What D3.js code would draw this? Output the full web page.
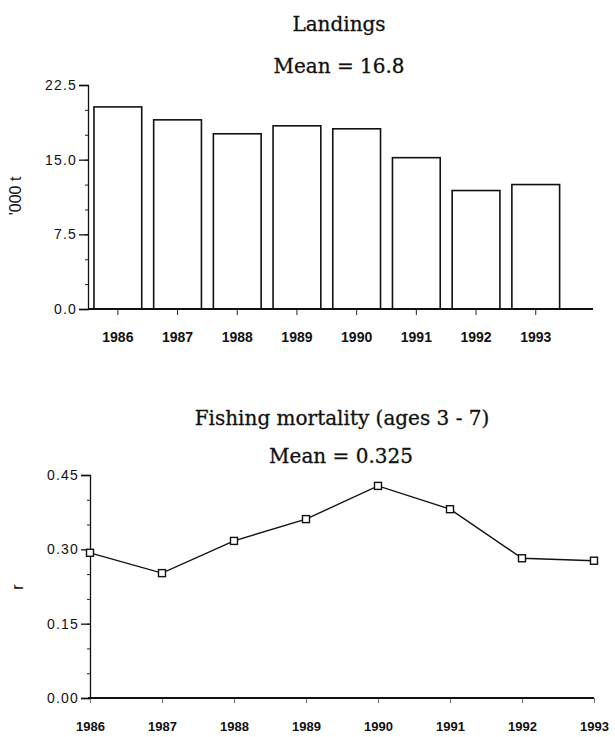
<!DOCTYPE html>
<html>
<head>
<meta charset="utf-8">
<script src="https://cdn.jsdelivr.net/npm/d3@7"></script>
<style>
  body { margin: 0; background: #fff; }
  .title { font-family: "DejaVu Serif", serif; font-size: 20px; fill: #111; stroke: #111; stroke-width: 0.3px; }
  .ytick text { font-family: "Liberation Sans", Arial, sans-serif; font-size: 14px; letter-spacing: 1.2px; fill: #111; }
  .xtick text { font-family: "Liberation Sans", Arial, sans-serif; font-size: 13px; font-weight: bold; fill: #111; }
  .xtick.wide text { font-size: 14px; }
  .ylab { font-family: "Liberation Sans", Arial, sans-serif; font-size: 16px; fill: #111; }
</style>
</head>
<body>
<svg id="chart" width="615" height="737"></svg>
<script>
// data
const years = [1986, 1987, 1988, 1989, 1990, 1991, 1992, 1993];
const landings = [20.3, 19.0, 17.6, 18.4, 18.1, 15.2, 11.9, 12.5];
const fishingMortality = [0.293, 0.252, 0.317, 0.361, 0.428, 0.381, 0.282, 0.277];
const landingsTicks = [0, 7.5, 15, 22.5];
const mortalityTicks = [0, 0.15, 0.30, 0.45];

const svg = d3.select("#chart");

// ---- top panel: landings bars ----
const landBox = { left: 88, right: 593, top: 85, bottom: 309 };

const xBand = d3.scaleBand()
  .domain(years)
  .range([landBox.left, landBox.left + 477.6])
  .paddingInner(0.2)
  .paddingOuter(0.1);

const yLand = d3.scaleLinear().domain([0, 22.5]).range([landBox.bottom, landBox.top]);

svg.append("text").attr("class", "title")
  .attr("x", 339).attr("y", 31).attr("text-anchor", "middle")
  .text("Landings");
svg.append("text").attr("class", "title")
  .attr("x", 339).attr("y", 73).attr("text-anchor", "middle")
  .text("Mean = 16.8");

svg.append("g")
  .selectAll("rect")
  .data(years)
  .join("rect")
  .attr("x", (d) => xBand(d))
  .attr("width", xBand.bandwidth())
  .attr("y", (d, i) => yLand(landings[i]))
  .attr("height", (d, i) => yLand(0) - yLand(landings[i]))
  .attr("fill", "#fff")
  .attr("stroke", "#111")
  .attr("stroke-width", 1.6);

// minor ticks
svg.append("g")
  .attr("transform", `translate(${landBox.left},0)`)
  .call(d3.axisLeft(yLand).tickValues(d3.range(0, 22.51, 2.5)).tickSize(3).tickFormat(""))
  .call((g) => g.select(".domain").remove())
  .selectAll("line").attr("stroke", "#222");

svg.append("g")
  .attr("class", "ytick")
  .attr("transform", `translate(${landBox.left},0)`)
  .call(d3.axisLeft(yLand).tickValues(landingsTicks).tickSize(9).tickPadding(2).tickFormat(d3.format(".1f")))
  .call((g) => g.select(".domain").attr("stroke", "#111").attr("stroke-width", 1.3))
  .call((g) => g.selectAll("line").attr("stroke", "#111").attr("stroke-width", 1.3));

svg.append("g")
  .attr("class", "xtick wide")
  .attr("transform", `translate(0,${landBox.bottom})`)
  .call(d3.axisBottom(xBand).tickSize(6).tickPadding(17))
  .call((g) => g.select(".domain").remove())
  .call((g) => g.selectAll("line").attr("stroke", "#222"));

svg.append("line")
  .attr("x1", landBox.left).attr("x2", landBox.right)
  .attr("y1", landBox.bottom).attr("y2", landBox.bottom)
  .attr("stroke", "#111").attr("stroke-width", 2.2);

svg.append("text").attr("class", "ylab")
  .attr("transform", "translate(21,196) rotate(-90)")
  .attr("text-anchor", "middle")
  .text("'000 t");

// ---- bottom panel: fishing mortality ----
const fBox = { left: 90, right: 594, top: 475, bottom: 698 };

const xYear = d3.scaleLinear().domain([1986, 1993]).range([fBox.left, fBox.right]);
const yF = d3.scaleLinear().domain([0, 0.45]).range([fBox.bottom, fBox.top]);

svg.append("text").attr("class", "title")
  .attr("x", 342).attr("y", 425).attr("text-anchor", "middle")
  .text("Fishing mortality (ages 3 - 7)");
svg.append("text").attr("class", "title")
  .attr("x", 341).attr("y", 463).attr("text-anchor", "middle")
  .text("Mean = 0.325");

svg.append("g")
  .attr("transform", `translate(${fBox.left},0)`)
  .call(d3.axisLeft(yF).tickValues(d3.range(0, 0.4501, 0.05)).tickSize(3).tickFormat(""))
  .call((g) => g.select(".domain").remove())
  .selectAll("line").attr("stroke", "#222");

svg.append("g")
  .attr("class", "ytick")
  .attr("transform", `translate(${fBox.left},0)`)
  .call(d3.axisLeft(yF).tickValues(mortalityTicks).tickSize(9).tickPadding(2).tickFormat(d3.format(".2f")))
  .call((g) => g.select(".domain").attr("stroke", "#111").attr("stroke-width", 1.3))
  .call((g) => g.selectAll("line").attr("stroke", "#111").attr("stroke-width", 1.3));

svg.append("g")
  .attr("class", "xtick")
  .attr("transform", `translate(0,${fBox.bottom})`)
  .call(d3.axisBottom(xYear).tickValues(years).tickSize(5).tickPadding(19).tickFormat(d3.format("d")))
  .call((g) => g.select(".domain").remove())
  .call((g) => g.selectAll("line").attr("stroke", "#777"));

svg.append("line")
  .attr("x1", fBox.left - 2).attr("x2", fBox.right)
  .attr("y1", fBox.bottom).attr("y2", fBox.bottom)
  .attr("stroke", "#111").attr("stroke-width", 2);

svg.append("text").attr("class", "ylab")
  .attr("transform", "translate(23,587) rotate(-90)")
  .attr("text-anchor", "middle")
  .text("r");

const line = d3.line()
  .x((d, i) => xYear(years[i]))
  .y((d) => yF(d));

svg.append("path")
  .datum(fishingMortality)
  .attr("d", line)
  .attr("fill", "none")
  .attr("stroke", "#111")
  .attr("stroke-width", 1.4);

svg.append("g")
  .selectAll("rect")
  .data(fishingMortality)
  .join("rect")
  .attr("x", (d, i) => xYear(years[i]) - 3.5)
  .attr("y", (d) => yF(d) - 3.5)
  .attr("width", 7)
  .attr("height", 7)
  .attr("fill", "#fff")
  .attr("stroke", "#111")
  .attr("stroke-width", 1.4);
</script>
</body>
</html>
